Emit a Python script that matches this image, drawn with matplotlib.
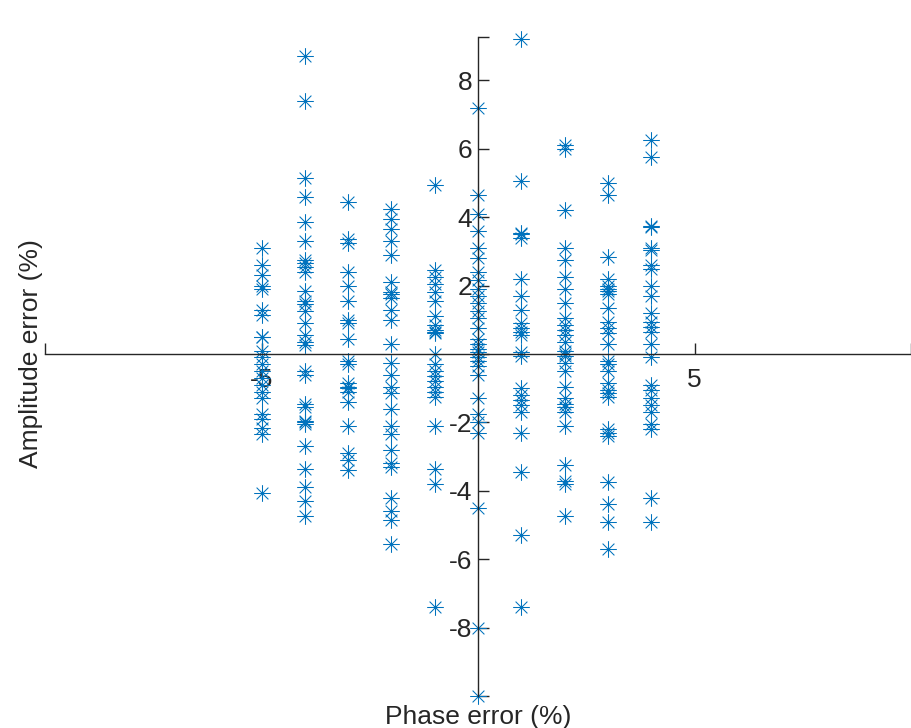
import numpy as np
import matplotlib
matplotlib.use("Agg")
import matplotlib.pyplot as plt
from matplotlib.path import Path

# phase error columns (x) and amplitude error readings (y) for each
phase_levels = [-5, -4, -3, -2, -1, 0, 1, 2, 3, 4]

amp_m5 = [3.1, 2.6, 2.3, 2.0, 1.9, 1.3, 1.15, 0.5, 0.5, 0.1, -0.1, -0.3, -0.5,
          -0.7, -0.9, -1.1, -1.3, -1.75, -1.9, -2.15, -2.35, -4.05]
amp_m4 = [8.7, 7.4, 5.15, 4.6, 3.85, 3.3, 2.75, 2.65, 2.55, 2.4, 1.85, 1.55,
          1.45, 1.25, 0.9, 0.55, 0.35, 0.25, -0.5, -0.6, -1.45, -1.55, -1.95,
          -2.0, -2.05, -2.7, -3.35, -3.9, -4.3, -4.75]
amp_m3 = [4.45, 3.35, 3.25, 2.4, 2.0, 1.55, 1.0, 0.9, 0.45, -0.2, -0.3, -0.85,
          -0.95, -1.0, -1.1, -1.4, -2.1, -2.9, -3.1, -3.4]
amp_m2 = [4.25, 3.95, 3.65, 3.3, 2.9, 2.1, 1.8, 1.75, 1.65, 1.3, 1.0, 0.3,
          -0.25, -0.6, -0.95, -1.15, -1.6, -2.1, -2.35, -2.8, -3.2, -3.3,
          -4.2, -4.6, -4.85, -5.55]
amp_m1 = [4.95, 2.45, 2.25, 2.05, 1.8, 1.55, 1.1, 0.85, 0.7, 0.65, 0.6, 0.0,
          -0.3, -0.5, -0.65, -0.8, -0.95, -1.1, -1.25, -2.1, -3.35, -3.8, -7.4]
amp_0 = [7.2, 4.65, 4.1, 3.6, 3.1, 2.8, 2.4, 2.15, 1.9, 1.7, 1.5, 1.25, 1.05,
         0.75, 0.45, 0.3, 0.15, 0.05, -0.1, -0.2, -0.35, -0.6, -1.3, -1.75,
         -2.0, -2.3, -4.5, -8.0, -10.0]
amp_p1 = [9.2, 5.05, 3.55, 3.5, 3.4, 2.2, 1.7, 1.3, 0.9, 0.75, 0.65, 0.55,
          0.05, -0.05, -1.0, -1.2, -1.35, -1.5, -1.7, -2.3, -3.45, -5.3, -7.4]
amp_p2 = [6.1, 6.0, 4.2, 3.1, 2.75, 2.25, 1.9, 1.5, 1.05, 0.85, 0.7, 0.55,
          0.35, 0.1, 0.0, -0.05, -0.25, -0.5, -0.95, -1.3, -1.45, -1.55, -1.7,
          -2.1, -3.25, -3.7, -3.8, -4.75]
amp_p3 = [5.0, 4.65, 2.85, 2.2, 2.0, 1.9, 1.85, 1.75, 1.35, 0.95, 0.75, 0.6,
          0.3, -0.2, -0.3, -0.5, -0.85, -1.05, -1.15, -1.25, -2.2, -2.3, -2.4,
          -3.75, -4.4, -4.9, -5.7]
amp_p4 = [6.25, 5.75, 3.75, 3.7, 3.1, 3.05, 2.6, 2.5, 2.0, 1.7, 1.2, 0.95,
          0.8, 0.65, 0.3, -0.1, -0.9, -1.05, -1.3, -1.5, -1.7, -2.05, -2.2,
          -4.2, -4.9]

columns = [amp_m5, amp_m4, amp_m3, amp_m2, amp_m1, amp_0, amp_p1, amp_p2,
           amp_p3, amp_p4]

x = np.concatenate([np.full(len(c), p, float) for p, c in zip(phase_levels, columns)])
y = np.concatenate([np.array(c, float) for c in columns])

# matlab style asterisk: 8 arms of equal length
ang = np.arange(8) * np.pi / 4
verts, codes = [], []
for a in ang:
    verts += [(0, 0), (np.cos(a), np.sin(a))]
    codes += [Path.MOVETO, Path.LINETO]
asterisk = Path(verts, codes)

plt.rcParams['font.family'] = ['Liberation Sans', 'DejaVu Sans']
axcol = '#262626'
ytop = 9.27

fig = plt.figure(figsize=(9.11, 7.28), dpi=100)
ax = fig.add_axes([45/911, 1 - 696/728, 866/911, 659/728])
ax.plot(x, y, linestyle='none', marker=asterisk, markersize=12,
        markerfacecolor='none', markeredgecolor='#0072BD', markeredgewidth=0.75,
        clip_on=False)

ax.set_xlim(-10, 10)
ax.set_ylim(-10, ytop)
ax.spines['left'].set_position(('data', 0))
ax.spines['bottom'].set_position(('data', 0))
ax.spines['top'].set_visible(False)
ax.spines['right'].set_visible(False)
for s in ('left', 'bottom'):
    ax.spines[s].set_color(axcol)
    ax.spines[s].set_linewidth(1.0)

ax.set_xticks([-10, -5, 0, 5, 10])
ax.set_xticklabels(['', '-5', '', '5', ''])
yt = list(range(-10, 9, 2))
ax.set_yticks(yt + [ytop])
ax.set_yticklabels(['' if v in (-10, 0) else str(v) for v in yt] + [''])
ax.tick_params(direction='in', length=8, width=1.0, colors=axcol,
               labelsize=19)
ax.tick_params(axis='x', pad=10)
ax.tick_params(axis='y', pad=4)
ax.patch.set_visible(False)

fig.text(478/911, 1 - 717/728, 'Phase error (%)', ha='center', va='center',
         fontsize=19, color=axcol)
fig.text(31/911, 1 - 354/728, 'Amplitude error (%)', ha='center', va='center',
         rotation=90, fontsize=19, color=axcol)

fig.savefig('out.png', dpi=100)
